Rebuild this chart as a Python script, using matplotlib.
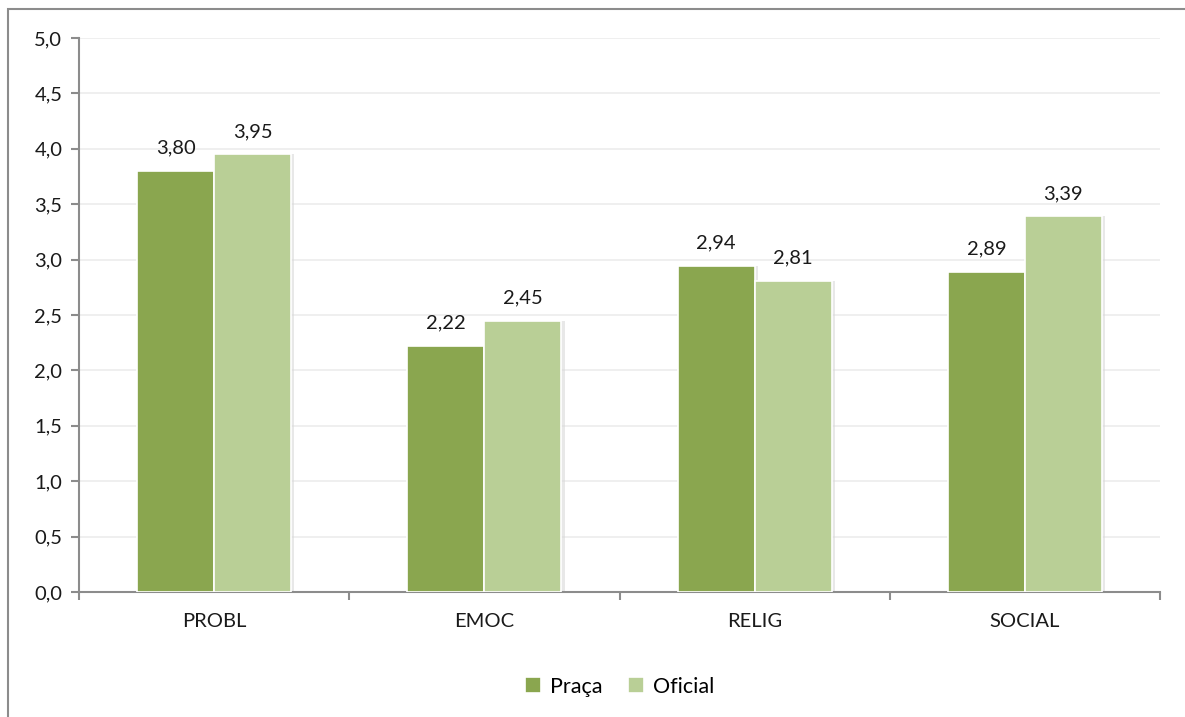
import matplotlib.pyplot as plt
import numpy as np
from matplotlib.patches import Rectangle

plt.rcParams['font.family'] = ['Lato', 'DejaVu Sans']

categorias = ['PROBL', 'EMOC', 'RELIG', 'SOCIAL']
praca = [3.80, 2.22, 2.94, 2.89]
oficial = [3.95, 2.45, 2.81, 3.39]
series = ['Praça', 'Oficial']
cores = ['#8AA64F', '#B9CF96']
yticks = [0.0, 0.5, 1.0, 1.5, 2.0, 2.5, 3.0, 3.5, 4.0, 4.5, 5.0]

W, H = 1185, 717
fig = plt.figure(figsize=(W / 100, H / 100), dpi=100)
ax = fig.add_axes([79 / W, (H - 592) / H, (1160 - 79) / W, (592 - 38) / H])

# moldura externa do gráfico
fig.patches.append(Rectangle((8 / W, -0.1), 1.2, (H - 9) / H + 0.1,
                             transform=fig.transFigure, fill=False,
                             edgecolor='#8c8c8c', linewidth=1.5))

fs = 14.5
x = np.arange(len(categorias))
larg = 0.285
for i, (vals, cor, nome) in enumerate(zip([praca, oficial], cores, series)):
    pos = x + (i - 0.5) * larg
    # sombra leve à direita das barras
    ax.bar(pos + 0.012, vals, larg, color='#d9d9d9', alpha=0.6, zorder=2)
    barras = ax.bar(pos, vals, larg, color=cor, edgecolor='white',
                    linewidth=1.2, label=nome, zorder=3)
    for b, v in zip(barras, vals):
        ax.text(b.get_x() + b.get_width() / 2, v + 0.13,
                f'{v:.2f}'.replace('.', ','), ha='center', va='bottom',
                fontsize=fs, color='#1a1a1a')

ax.set_xlim(-0.5, len(categorias) - 0.5)
ax.set_ylim(0, 5)
ax.set_yticks(yticks)
ax.set_yticklabels([f'{t:.1f}'.replace('.', ',') for t in yticks],
                   fontsize=fs, color='#1a1a1a')
ax.set_xticks(np.arange(len(categorias) + 1) - 0.5, minor=False)
ax.set_xticklabels([])
ax.set_xticks(x, minor=True)
ax.set_xticklabels(categorias, minor=True, fontsize=fs, color='#1a1a1a')
ax.tick_params(axis='x', which='minor', length=0, pad=15)
ax.tick_params(axis='x', which='major', length=6, color='#8c8c8c', width=1.5)
ax.tick_params(axis='y', length=6, color='#8c8c8c', width=1.5, pad=6)

ax.yaxis.grid(True, color='#ececec', linewidth=1.2, zorder=0)
ax.set_axisbelow(True)
for lado in ['top', 'right']:
    ax.spines[lado].set_visible(False)
for lado in ['left', 'bottom']:
    ax.spines[lado].set_color('#8c8c8c')
    ax.spines[lado].set_linewidth(1.5)

ax.legend(loc='upper center', bbox_to_anchor=(0.5, -0.118), ncol=2,
          frameon=False, fontsize=fs + 1, handlelength=0.75, handleheight=0.75,
          handletextpad=0.4, columnspacing=1.2)

fig.savefig('out.png', dpi=100)
